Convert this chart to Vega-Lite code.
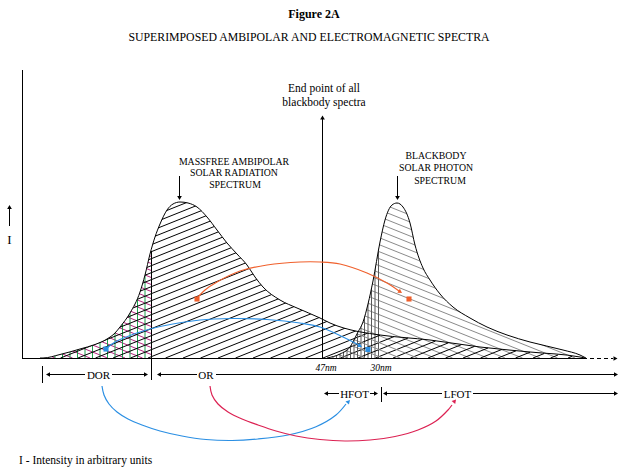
{
"$schema": "https://vega.github.io/schema/vega-lite/v6.json",
"width": 626, "height": 475, "padding": 0, "autosize": {"type": "none"},
"background": "white",
"config": {"view": {"stroke": null}},
"datasets": {
"curveL": [
{"x":40,"v":0},{"x":43,"v":0},{"x":60,"v":3.5},{"x":80,"v":9},{"x":95,"v":13.5},{"x":107,"v":19},{"x":115,"v":25},{"x":120,"v":31},{"x":130,"v":45},{"x":140,"v":66},{"x":145,"v":83},{"x":150,"v":104},{"x":155,"v":121},{"x":160,"v":134},{"x":167,"v":148},{"x":173,"v":154},{"x":180,"v":156},{"x":188,"v":155},{"x":197,"v":151},{"x":207,"v":141},{"x":217,"v":128},{"x":227,"v":115},{"x":237,"v":104},{"x":247,"v":93},{"x":255,"v":81},{"x":263,"v":71},{"x":280,"v":58},{"x":297,"v":50},{"x":320,"v":40},{"x":330,"v":35},{"x":358,"v":26.5},{"x":359,"v":26.3},{"x":380,"v":23},{"x":430,"v":18},{"x":480,"v":11},{"x":530,"v":6},{"x":580,"v":1},{"x":585,"v":0}
],
"curveR": [
{"x":327,"v":0},{"x":340,"v":4},{"x":350,"v":11},{"x":357,"v":24.1},{"x":358,"v":26},{"x":363,"v":36},{"x":368,"v":54},{"x":373,"v":77},{"x":380,"v":116},{"x":385,"v":138},{"x":392,"v":153},{"x":397,"v":155},{"x":403,"v":151},{"x":410,"v":135},{"x":415,"v":113},{"x":423,"v":90},{"x":430,"v":78},{"x":440,"v":64},{"x":453,"v":51},{"x":470,"v":40},{"x":487,"v":31},{"x":507,"v":23},{"x":530,"v":16},{"x":563,"v":8},{"x":580,"v":3},{"x":586,"v":0}
],
"hatch1": [
{"set":"dor","x":43,"v":4.8,"x2":55,"v2":0},
{"set":"dor","x":43,"v":11.8,"x2":72.5,"v2":0},
{"set":"dor","x":43,"v":18.8,"x2":90,"v2":0},
{"set":"dor","x":43,"v":25.8,"x2":107.5,"v2":0},
{"set":"dor","x":43,"v":32.8,"x2":125,"v2":0},
{"set":"dor","x":43,"v":39.8,"x2":142.5,"v2":0},
{"set":"dor","x":43,"v":46.8,"x2":151,"v2":3.6},
{"set":"dor","x":43,"v":53.8,"x2":151,"v2":10.6},
{"set":"dor","x":43,"v":60.8,"x2":151,"v2":17.6},
{"set":"dor","x":43,"v":67.8,"x2":151,"v2":24.6},
{"set":"dor","x":43,"v":74.8,"x2":151,"v2":31.6},
{"set":"dor","x":43,"v":81.8,"x2":151,"v2":38.6},
{"set":"dor","x":43,"v":88.8,"x2":151,"v2":45.6},
{"set":"dor","x":43,"v":95.8,"x2":151,"v2":52.6},
{"set":"dor","x":43,"v":102.8,"x2":151,"v2":59.6},
{"set":"dor","x":43,"v":109.8,"x2":151,"v2":66.6},
{"set":"dor","x":43,"v":116.8,"x2":151,"v2":73.6},
{"set":"dor","x":43,"v":123.8,"x2":151,"v2":80.6},
{"set":"dor","x":43,"v":130.8,"x2":151,"v2":87.6},
{"set":"dor","x":43,"v":137.8,"x2":151,"v2":94.6},
{"set":"dor","x":43,"v":144.8,"x2":151,"v2":101.6},
{"set":"dor-v","x":55,"v":0,"x2":55,"v2":110},
{"set":"dor-v","x":62.5,"v":0,"x2":62.5,"v2":110},
{"set":"dor-v","x":70,"v":0,"x2":70,"v2":110},
{"set":"dor-v","x":77.5,"v":0,"x2":77.5,"v2":110},
{"set":"dor-v","x":85,"v":0,"x2":85,"v2":110},
{"set":"dor-v","x":92.5,"v":0,"x2":92.5,"v2":110},
{"set":"dor-v","x":100,"v":0,"x2":100,"v2":110},
{"set":"dor-v","x":107.5,"v":0,"x2":107.5,"v2":110},
{"set":"dor-v","x":115,"v":0,"x2":115,"v2":110},
{"set":"dor-v","x":122.5,"v":0,"x2":122.5,"v2":110},
{"set":"dor-v","x":130,"v":0,"x2":130,"v2":110},
{"set":"dor-v","x":137.5,"v":0,"x2":137.5,"v2":110},
{"set":"dor-v","x":145,"v":0,"x2":145,"v2":110},
{"set":"ambipolar","x":288,"v":0,"x2":358,"v2":28},
{"set":"ambipolar","x":270.5,"v":0,"x2":358,"v2":35},
{"set":"ambipolar","x":253,"v":0,"x2":358,"v2":42},
{"set":"ambipolar","x":235.5,"v":0,"x2":358,"v2":49},
{"set":"ambipolar","x":218,"v":0,"x2":358,"v2":56},
{"set":"ambipolar","x":200.5,"v":0,"x2":358,"v2":63},
{"set":"ambipolar","x":183,"v":0,"x2":358,"v2":70},
{"set":"ambipolar","x":165.5,"v":0,"x2":358,"v2":77},
{"set":"ambipolar","x":148,"v":0,"x2":358,"v2":84},
{"set":"ambipolar","x":130.5,"v":0,"x2":358,"v2":91},
{"set":"ambipolar","x":113,"v":0,"x2":358,"v2":98},
{"set":"ambipolar","x":95.5,"v":0,"x2":358,"v2":105},
{"set":"ambipolar","x":78,"v":0,"x2":358,"v2":112},
{"set":"ambipolar","x":60.5,"v":0,"x2":358,"v2":119},
{"set":"ambipolar","x":43,"v":0,"x2":358,"v2":126},
{"set":"ambipolar","x":43,"v":7,"x2":358,"v2":133},
{"set":"ambipolar","x":43,"v":14,"x2":358,"v2":140},
{"set":"ambipolar","x":43,"v":21,"x2":358,"v2":147},
{"set":"ambipolar","x":43,"v":28,"x2":358,"v2":154},
{"set":"ambipolar","x":43,"v":35,"x2":350.5,"v2":158},
{"set":"ambipolar","x":43,"v":42,"x2":333,"v2":158},
{"set":"ambipolar","x":43,"v":49,"x2":315.5,"v2":158},
{"set":"ambipolar","x":43,"v":56,"x2":298,"v2":158},
{"set":"ambipolar","x":43,"v":63,"x2":280.5,"v2":158},
{"set":"ambipolar","x":43,"v":70,"x2":263,"v2":158},
{"set":"ambipolar","x":43,"v":77,"x2":245.5,"v2":158},
{"set":"ambipolar","x":43,"v":84,"x2":228,"v2":158},
{"set":"ambipolar","x":43,"v":91,"x2":210.5,"v2":158},
{"set":"ambipolar","x":43,"v":98,"x2":193,"v2":158}
],
"hatch2": [
{"set":"photon","x":358,"v":30.8,"x2":435,"v2":0},
{"set":"photon","x":358,"v":37.8,"x2":452.5,"v2":0},
{"set":"photon","x":358,"v":44.8,"x2":470,"v2":0},
{"set":"photon","x":358,"v":51.8,"x2":487.5,"v2":0},
{"set":"photon","x":358,"v":58.8,"x2":505,"v2":0},
{"set":"photon","x":358,"v":65.8,"x2":522.5,"v2":0},
{"set":"photon","x":358,"v":72.8,"x2":540,"v2":0},
{"set":"photon","x":358,"v":79.8,"x2":557.5,"v2":0},
{"set":"photon","x":358,"v":86.8,"x2":575,"v2":0},
{"set":"photon","x":358,"v":93.8,"x2":584,"v2":3.4},
{"set":"photon","x":358,"v":100.8,"x2":584,"v2":10.4},
{"set":"photon","x":358,"v":107.8,"x2":584,"v2":17.4},
{"set":"photon","x":358,"v":114.8,"x2":584,"v2":24.4},
{"set":"photon","x":358,"v":121.8,"x2":584,"v2":31.4},
{"set":"photon","x":358,"v":128.8,"x2":584,"v2":38.4},
{"set":"photon","x":358,"v":135.8,"x2":584,"v2":45.4},
{"set":"photon","x":358,"v":142.8,"x2":584,"v2":52.4},
{"set":"photon","x":358,"v":149.8,"x2":584,"v2":59.4},
{"set":"photon","x":358,"v":156.8,"x2":584,"v2":66.4},
{"set":"photon","x":372.5,"v":158,"x2":584,"v2":73.4},
{"set":"hfot","x":361,"v":0,"x2":361,"v2":158},
{"set":"hfot","x":364.5,"v":0,"x2":364.5,"v2":158},
{"set":"hfot","x":368,"v":0,"x2":368,"v2":158},
{"set":"hfot","x":371.5,"v":0,"x2":371.5,"v2":158},
{"set":"hfot","x":375,"v":0,"x2":375,"v2":158},
{"set":"hfot","x":378.5,"v":0,"x2":378.5,"v2":158}
],
"hatch3": [
{"set":"ambipolar","x":305.5,"v":0,"x2":367.5,"v2":24.8},
{"set":"ambipolar","x":323,"v":0,"x2":380,"v2":22.8},
{"set":"ambipolar","x":340.5,"v":0,"x2":394,"v2":21.4},
{"set":"ambipolar","x":358,"v":0,"x2":408,"v2":20},
{"set":"ambipolar","x":375.5,"v":0,"x2":422,"v2":18.6},
{"set":"ambipolar","x":393,"v":0,"x2":435.5,"v2":17},
{"set":"ambipolar","x":410.5,"v":0,"x2":448.5,"v2":15.2},
{"set":"ambipolar","x":428,"v":0,"x2":461.5,"v2":13.4},
{"set":"ambipolar","x":445.5,"v":0,"x2":474.5,"v2":11.6},
{"set":"ambipolar","x":463,"v":0,"x2":488,"v2":10},
{"set":"ambipolar","x":480.5,"v":0,"x2":502,"v2":8.6},
{"set":"ambipolar","x":498,"v":0,"x2":516,"v2":7.2},
{"set":"ambipolar","x":515.5,"v":0,"x2":530,"v2":5.8},
{"set":"ambipolar","x":533,"v":0,"x2":544,"v2":4.4},
{"set":"ambipolar","x":550.5,"v":0,"x2":558,"v2":3},
{"set":"ambipolar","x":568,"v":0,"x2":572,"v2":1.6},
{"set":"photon","x":338.6,"v":3.5,"x2":347.5,"v2":0},
{"set":"photon","x":345.5,"v":7.8,"x2":365,"v2":0},
{"set":"photon","x":351,"v":12.6,"x2":382.5,"v2":0},
{"set":"photon","x":354,"v":18.4,"x2":400,"v2":0},
{"set":"photon","x":357,"v":24.2,"x2":417.5,"v2":0},
{"set":"hfot","x":333,"v":0,"x2":333,"v2":1.6},
{"set":"hfot","x":336.5,"v":0,"x2":336.5,"v2":2.7},
{"set":"hfot","x":340,"v":0,"x2":340,"v2":3.8},
{"set":"hfot","x":343.5,"v":0,"x2":343.5,"v2":6.2},
{"set":"hfot","x":347,"v":0,"x2":347,"v2":8.6},
{"set":"hfot","x":350.5,"v":0,"x2":350.5,"v2":11.7},
{"set":"hfot","x":354,"v":0,"x2":354,"v2":18.2},
{"set":"hfot","x":357.5,"v":0,"x2":357.5,"v2":24.8}
],
"frame": [
{"x":22.5,"v":-0.5,"x2":22.5,"v2":288},
{"x":22,"v":-0.5,"x2":583,"v2":-0.5},
{"x":151.5,"v":-22,"x2":151.5,"v2":107},
{"x":322.5,"v":0,"x2":322.5,"v2":239},
{"x":9.5,"v":132,"x2":9.5,"v2":150},
{"x":179.5,"v":182,"x2":179.5,"v2":162},
{"x":397.5,"v":182,"x2":397.5,"v2":162},
{"x":42.5,"v":-8,"x2":42.5,"v2":-25},
{"x":381.5,"v":-29,"x2":381.5,"v2":-44},
{"x":47,"v":-16.5,"x2":85,"v2":-16.5},
{"x":112,"v":-16.5,"x2":147,"v2":-16.5},
{"x":158,"v":-16.5,"x2":197,"v2":-16.5},
{"x":216,"v":-16.5,"x2":616,"v2":-16.5},
{"x":325,"v":-35.5,"x2":339,"v2":-35.5},
{"x":370,"v":-35.5,"x2":377,"v2":-35.5},
{"x":384,"v":-35.5,"x2":442,"v2":-35.5},
{"x":473,"v":-35.5,"x2":616,"v2":-35.5}
],
"dashed": [
{"x":583,"v":-0.5,"x2":613,"v2":-0.5}
],
"arcs": [
{"arc":"a1","set":"or-transfer","x":198,"v":61},{"arc":"a1","set":"or-transfer","x":205,"v":68},{"arc":"a1","set":"or-transfer","x":217,"v":76},{"arc":"a1","set":"or-transfer","x":240,"v":87},{"arc":"a1","set":"or-transfer","x":267,"v":93},{"arc":"a1","set":"or-transfer","x":300,"v":96},{"arc":"a1","set":"or-transfer","x":320,"v":96},{"arc":"a1","set":"or-transfer","x":340,"v":94},{"arc":"a1","set":"or-transfer","x":367,"v":85},{"arc":"a1","set":"or-transfer","x":387,"v":75},{"arc":"a1","set":"or-transfer","x":399,"v":67},
{"arc":"a2","set":"dor-transfer","x":106,"v":9},{"arc":"a2","set":"dor-transfer","x":112,"v":14},{"arc":"a2","set":"dor-transfer","x":120,"v":18.5},{"arc":"a2","set":"dor-transfer","x":150,"v":29},{"arc":"a2","set":"dor-transfer","x":200,"v":38},{"arc":"a2","set":"dor-transfer","x":233,"v":39.5},{"arc":"a2","set":"dor-transfer","x":267,"v":38.5},{"arc":"a2","set":"dor-transfer","x":300,"v":35},{"arc":"a2","set":"dor-transfer","x":320,"v":31},{"arc":"a2","set":"dor-transfer","x":343,"v":21},{"arc":"a2","set":"dor-transfer","x":355,"v":15},{"arc":"a2","set":"dor-transfer","x":359,"v":12.8},
{"arc":"a3","set":"dor-transfer","x":102,"v":-28},{"arc":"a3","set":"dor-transfer","x":104,"v":-37},{"arc":"a3","set":"dor-transfer","x":109,"v":-46},{"arc":"a3","set":"dor-transfer","x":117,"v":-54},{"arc":"a3","set":"dor-transfer","x":128,"v":-61},{"arc":"a3","set":"dor-transfer","x":142,"v":-67},{"arc":"a3","set":"dor-transfer","x":160,"v":-73},{"arc":"a3","set":"dor-transfer","x":182,"v":-78},{"arc":"a3","set":"dor-transfer","x":206,"v":-81.5},{"arc":"a3","set":"dor-transfer","x":232,"v":-82.5},{"arc":"a3","set":"dor-transfer","x":258,"v":-81},{"arc":"a3","set":"dor-transfer","x":288,"v":-77},{"arc":"a3","set":"dor-transfer","x":316,"v":-68.7},{"arc":"a3","set":"dor-transfer","x":336,"v":-57},{"arc":"a3","set":"dor-transfer","x":346,"v":-46},
{"arc":"a4","set":"or-lfot","x":210,"v":-28},{"arc":"a4","set":"or-lfot","x":212,"v":-37},{"arc":"a4","set":"or-lfot","x":218,"v":-46},{"arc":"a4","set":"or-lfot","x":228,"v":-54},{"arc":"a4","set":"or-lfot","x":242,"v":-61},{"arc":"a4","set":"or-lfot","x":258,"v":-67},{"arc":"a4","set":"or-lfot","x":276,"v":-73},{"arc":"a4","set":"or-lfot","x":296,"v":-78},{"arc":"a4","set":"or-lfot","x":320,"v":-81.5},{"arc":"a4","set":"or-lfot","x":345,"v":-83},{"arc":"a4","set":"or-lfot","x":370,"v":-82},{"arc":"a4","set":"or-lfot","x":395,"v":-78.5},{"arc":"a4","set":"or-lfot","x":418,"v":-72},{"arc":"a4","set":"or-lfot","x":436,"v":-63},{"arc":"a4","set":"or-lfot","x":448,"v":-52},{"arc":"a4","set":"or-lfot","x":452,"v":-47}
],
"dots": [
{"set":"or-transfer","x":197,"v":59},{"set":"or-transfer","x":409,"v":59},
{"set":"dor-transfer","x":106,"v":9},{"set":"dor-transfer","x":368,"v":8.5}
],
"heads": [
{"set":"frame","x":615.5,"v":-0.5,"dir":90},
{"set":"frame","x":9.5,"v":151,"dir":0},
{"set":"frame","x":322.5,"v":240.5,"dir":0},
{"set":"frame","x":179.5,"v":160,"dir":180},
{"set":"frame","x":397.5,"v":160,"dir":180},
{"set":"frame","x":48,"v":-16.5,"dir":270},
{"set":"frame","x":146,"v":-16.5,"dir":90},
{"set":"frame","x":159,"v":-16.5,"dir":270},
{"set":"frame","x":616,"v":-16.5,"dir":90},
{"set":"frame","x":326,"v":-35.5,"dir":270},
{"set":"frame","x":376,"v":-35.5,"dir":90},
{"set":"frame","x":385,"v":-35.5,"dir":270},
{"set":"frame","x":616,"v":-35.5,"dir":90},
{"set":"or-transfer","x":400.3,"v":66.1,"dir":124},
{"set":"dor-transfer","x":360.2,"v":12,"dir":118},
{"set":"dor-transfer","x":348.6,"v":-43.5,"dir":43},
{"set":"or-lfot","x":454.7,"v":-43,"dir":40}
],
"labels": [
{"role":"fig","text":"Figure 2A","x":314,"v":344},
{"role":"sub","text":"SUPERIMPOSED AMBIPOLAR AND ELECTROMAGNETIC SPECTRA","x":309,"v":321},
{"role":"note","text":"End point of all","x":324,"v":269},
{"role":"note","text":"blackbody spectra","x":324,"v":255},
{"role":"cap","text":"MASSFREE AMBIPOLAR","x":234,"v":196.3},
{"role":"cap","text":"SOLAR RADIATION","x":234,"v":185},
{"role":"cap","text":"SPECTRUM","x":235,"v":173},
{"role":"cap","text":"BLACKBODY","x":436,"v":202},
{"role":"cap","text":"SOLAR PHOTON","x":436,"v":190},
{"role":"cap","text":"SPECTRUM","x":440,"v":177.5},
{"role":"dim","text":"DOR","x":98.5,"v":-17.5},
{"role":"dim","text":"OR","x":206,"v":-18},
{"role":"dim","text":"HFOT","x":354.5,"v":-36.5},
{"role":"dim","text":"LFOT","x":457.5,"v":-36.5},
{"role":"nm","text":"47nm","x":326,"v":-10},
{"role":"nm","text":"30nm","x":381,"v":-10},
{"role":"axis","text":"I","x":9.5,"v":118},
{"role":"foot","text":"I - Intensity in arbitrary units","x":19,"v":-103}
]
},
"encoding": {
"x": {"field": "x", "type": "quantitative", "scale": {"domain": [0, 626], "nice": false, "zero": false}, "axis": null},
"y": {"field": "v", "type": "quantitative", "scale": {"domain": [-117, 358], "nice": false, "zero": false}, "axis": null}
},
"layer": [
{"data": {"name": "hatch1"}, "mark": {"type": "rule", "strokeWidth": 1},
 "encoding": {"x2": {"field": "x2"}, "y2": {"field": "v2"},
  "color": {"field": "set", "type": "nominal", "legend": null, "scale": {"domain": ["ambipolar","photon","hfot","dor","dor-v","or-transfer","dor-transfer","or-lfot","frame"], "range": ["#000000","#8a8a8a","#5a5a5a","#b4267e","#1fa04e","#f0602c","#2b8fe3","#dc2253","#000000"]}}}},
{"data": {"name": "curveL"}, "transform": [{"filter": "datum.x <= 359"}],
 "mark": {"type": "area", "interpolate": "monotone", "orient": "vertical", "fill": "white", "opacity": 1},
 "encoding": {"y2": {"datum": 160}}},
{"data": {"name": "hatch2"}, "mark": {"type": "rule", "strokeWidth": 1},
 "encoding": {"x2": {"field": "x2"}, "y2": {"field": "v2"},
  "color": {"field": "set", "type": "nominal", "legend": null, "scale": {"domain": ["ambipolar","photon","hfot","dor","dor-v","or-transfer","dor-transfer","or-lfot","frame"], "range": ["#000000","#8a8a8a","#5a5a5a","#b4267e","#1fa04e","#f0602c","#2b8fe3","#dc2253","#000000"]}}}},
{"data": {"name": "curveR"}, "transform": [{"filter": "datum.x >= 357"}],
 "mark": {"type": "area", "interpolate": "monotone", "orient": "vertical", "fill": "white", "opacity": 1},
 "encoding": {"y2": {"datum": 160}}},
{"data": {"name": "hatch3"}, "mark": {"type": "rule", "strokeWidth": 1},
 "encoding": {"x2": {"field": "x2"}, "y2": {"field": "v2"},
  "color": {"field": "set", "type": "nominal", "legend": null, "scale": {"domain": ["ambipolar","photon","hfot","dor","dor-v","or-transfer","dor-transfer","or-lfot","frame"], "range": ["#000000","#8a8a8a","#5a5a5a","#b4267e","#1fa04e","#f0602c","#2b8fe3","#dc2253","#000000"]}}}},
{"data": {"name": "curveL"}, "mark": {"type": "line", "interpolate": "monotone", "color": "#000000", "strokeWidth": 1}},
{"data": {"name": "curveR"}, "mark": {"type": "line", "interpolate": "monotone", "color": "#000000", "strokeWidth": 1}},
{"data": {"name": "frame"}, "mark": {"type": "rule", "color": "#000000", "strokeWidth": 1},
 "encoding": {"x2": {"field": "x2"}, "y2": {"field": "v2"}}},
{"data": {"name": "dashed"}, "mark": {"type": "rule", "color": "#000000", "strokeWidth": 1, "strokeDash": [4, 3]},
 "encoding": {"x2": {"field": "x2"}, "y2": {"field": "v2"}}},
{"data": {"name": "arcs"}, "mark": {"type": "line", "interpolate": "catmull-rom", "strokeWidth": 1.2},
 "encoding": {"detail": {"field": "arc"},
  "color": {"field": "set", "type": "nominal", "legend": null, "scale": {"domain": ["ambipolar","photon","hfot","dor","dor-v","or-transfer","dor-transfer","or-lfot","frame"], "range": ["#000000","#8a8a8a","#5a5a5a","#b4267e","#1fa04e","#f0602c","#2b8fe3","#dc2253","#000000"]}}}},
{"data": {"name": "dots"}, "mark": {"type": "point", "shape": "square", "filled": true, "size": 26, "opacity": 1},
 "encoding": {"color": {"field": "set", "type": "nominal", "legend": null, "scale": {"domain": ["ambipolar","photon","hfot","dor","dor-v","or-transfer","dor-transfer","or-lfot","frame"], "range": ["#000000","#8a8a8a","#5a5a5a","#b4267e","#1fa04e","#f0602c","#2b8fe3","#dc2253","#000000"]}}}},
{"data": {"name": "heads"}, "mark": {"type": "point", "shape": "triangle-up", "filled": true, "size": 22, "opacity": 1},
 "encoding": {"angle": {"field": "dir", "type": "quantitative", "scale": {"domain": [0, 360], "range": [0, 360]}},
  "color": {"field": "set", "type": "nominal", "legend": null, "scale": {"domain": ["ambipolar","photon","hfot","dor","dor-v","or-transfer","dor-transfer","or-lfot","frame"], "range": ["#000000","#8a8a8a","#5a5a5a","#b4267e","#1fa04e","#f0602c","#2b8fe3","#dc2253","#000000"]}}}},
{"data": {"name": "labels"}, "transform": [{"filter": "datum.role === 'fig'"}],
 "mark": {"type": "text", "font": "Liberation Serif", "fontSize": 12, "fontWeight": "bold", "baseline": "middle", "color": "#000000"},
 "encoding": {"text": {"field": "text"}}},
{"data": {"name": "labels"}, "transform": [{"filter": "datum.role === 'sub'"}],
 "mark": {"type": "text", "font": "Liberation Serif", "fontSize": 11.8, "baseline": "middle", "color": "#000000"},
 "encoding": {"text": {"field": "text"}}},
{"data": {"name": "labels"}, "transform": [{"filter": "datum.role === 'note'"}],
 "mark": {"type": "text", "font": "Liberation Serif", "fontSize": 11.5, "baseline": "middle", "color": "#000000"},
 "encoding": {"text": {"field": "text"}}},
{"data": {"name": "labels"}, "transform": [{"filter": "datum.role === 'cap'"}],
 "mark": {"type": "text", "font": "Liberation Serif", "fontSize": 9.8, "baseline": "middle", "color": "#000000"},
 "encoding": {"text": {"field": "text"}}},
{"data": {"name": "labels"}, "transform": [{"filter": "datum.role === 'dim'"}],
 "mark": {"type": "text", "font": "Liberation Serif", "fontSize": 11, "baseline": "middle", "color": "#000000"},
 "encoding": {"text": {"field": "text"}}},
{"data": {"name": "labels"}, "transform": [{"filter": "datum.role === 'nm'"}],
 "mark": {"type": "text", "font": "Liberation Serif", "fontSize": 9.5, "fontStyle": "italic", "baseline": "middle", "color": "#000000"},
 "encoding": {"text": {"field": "text"}}},
{"data": {"name": "labels"}, "transform": [{"filter": "datum.role === 'axis'"}],
 "mark": {"type": "text", "font": "Liberation Serif", "fontSize": 13, "baseline": "middle", "color": "#000000"},
 "encoding": {"text": {"field": "text"}}},
{"data": {"name": "labels"}, "transform": [{"filter": "datum.role === 'foot'"}],
 "mark": {"type": "text", "font": "Liberation Serif", "fontSize": 11.5, "align": "left", "baseline": "middle", "color": "#000000"},
 "encoding": {"text": {"field": "text"}}}
]
}
